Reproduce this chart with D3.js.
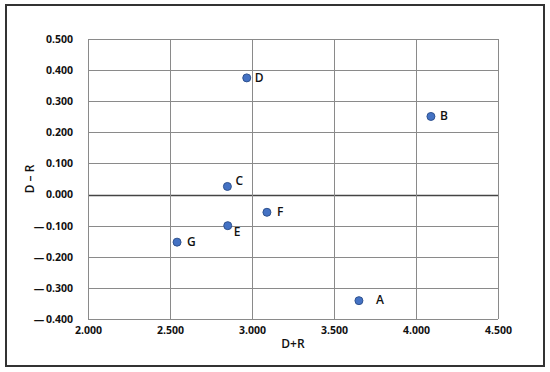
<!DOCTYPE html>
<html>
<head>
<meta charset="utf-8">
<script src="https://cdn.jsdelivr.net/npm/d3@7"></script>
<style>
  body { margin: 0; background: #fff; }
  svg { display: block; font-family: "Open Sans", "Noto Sans", sans-serif; }
</style>
</head>
<body>
<svg width="550" height="372"></svg>
<script>
// data
var names = ["A", "B", "C", "D", "E", "F", "G"];
var sumDR = [3.652, 4.091, 2.850, 2.968, 2.852, 3.091, 2.543];
var diffDR = [-0.341, 0.251, 0.026, 0.375, -0.100, -0.057, -0.153];
var xTicks = [2.0, 2.5, 3.0, 3.5, 4.0, 4.5];
var yTicks = [0.5, 0.4, 0.3, 0.2, 0.1, 0.0, -0.1, -0.2, -0.3, -0.4];

// label offsets per point (dx, dy)
var labelOffset = {
    A: [17, 3], B: [9, 4], C: [8, -1], D: [8, 4],
    E: [6, 10], F: [10, 4], G: [10, 4]
};

function main(){
    var svg = d3.select("svg");

    var left = 88, right = 498, top = 39, bottom = 319;

    var xScale = d3.scaleLinear().domain([2.0, 4.5]).range([left, right]),
        yScale = d3.scaleLinear().domain([-0.4, 0.5]).range([bottom, top]);

    var fmt = d3.format(".3f");
    function yFmt(d){
        if (Math.abs(d) < 1e-9) return "0.000";
        return d < 0 ? "\u2014\u2009" + fmt(-d) : fmt(d);
    }

    // outer frame
    svg.append("rect")
        .attr("x", 6).attr("y", 5)
        .attr("width", 538).attr("height", 361)
        .attr("fill", "none")
        .attr("stroke", "#333")
        .attr("stroke-width", 2);

    var grid = svg.append("g");

    grid.selectAll(".hgrid")
        .data(yTicks)
        .enter().append("line")
        .attr("x1", left).attr("x2", right)
        .attr("y1", function(d){ return Math.round(yScale(d)) + 0.5; })
        .attr("y2", function(d){ return Math.round(yScale(d)) + 0.5; })
        .attr("stroke", function(d){ return Math.abs(d) < 1e-9 ? "#444" : "#8a8a8a"; })
        .attr("stroke-width", function(d){ return Math.abs(d) < 1e-9 ? 1.5 : 1; });

    grid.selectAll(".vgrid")
        .data(xTicks)
        .enter().append("line")
        .attr("y1", top).attr("y2", bottom)
        .attr("x1", function(d){ return Math.round(xScale(d)) + 0.5; })
        .attr("x2", function(d){ return Math.round(xScale(d)) + 0.5; })
        .attr("stroke", "#8a8a8a");

    // y axis labels
    var yAxis = svg.append("g")
        .attr("transform", "translate(" + left + ",0)")
        .call(d3.axisLeft(yScale).tickValues(yTicks).tickFormat(yFmt).tickSize(0).tickPadding(15));
    yAxis.select(".domain").remove();
    yAxis.selectAll("text")
        .attr("font-size", "10.5px")
        .attr("font-weight", "bold")
        .attr("fill", "#111")
        .attr("font-family", "Open Sans, sans-serif");

    // x axis labels
    var xAxis = svg.append("g")
        .attr("transform", "translate(0," + bottom + ")")
        .call(d3.axisBottom(xScale).tickValues(xTicks).tickFormat(fmt).tickSize(0).tickPadding(8));
    xAxis.select(".domain").remove();
    xAxis.selectAll("text")
        .attr("font-size", "10.5px")
        .attr("font-weight", "bold")
        .attr("fill", "#111")
        .attr("font-family", "Open Sans, sans-serif");

    // axis titles
    svg.append("text")
        .attr("x", (left + right) / 2)
        .attr("y", 348)
        .attr("text-anchor", "middle")
        .attr("font-size", "12px")
        .attr("font-weight", "600")
        .attr("fill", "#111")
        .text("D+R");

    svg.append("text")
        .attr("transform", "translate(34," + (top + bottom) / 2 + ") rotate(-90)")
        .attr("text-anchor", "middle")
        .attr("font-size", "12px")
        .attr("font-weight", "600")
        .attr("fill", "#111")
        .text("D \u2013 R");

    var pts = names.map(function(n, i){ return { name: n, x: sumDR[i], y: diffDR[i] }; });

    svg.selectAll(".dot")
        .data(pts)
        .enter().append("circle")
        .attr("class", "dot")
        .attr("cx", function(d){ return xScale(d.x); })
        .attr("cy", function(d){ return yScale(d.y); })
        .attr("r", 4)
        .attr("fill", "#4472C4")
        .attr("stroke", "#2F528F")
        .attr("stroke-width", 1);

    svg.selectAll(".lbl")
        .data(pts)
        .enter().append("text")
        .attr("class", "lbl")
        .attr("x", function(d){ return xScale(d.x) + labelOffset[d.name][0]; })
        .attr("y", function(d){ return yScale(d.y) + labelOffset[d.name][1]; })
        .attr("font-size", "12px")
        .attr("font-weight", "600")
        .attr("fill", "#111")
        .text(function(d){ return d.name; });
}
main();
</script>
</body>
</html>
